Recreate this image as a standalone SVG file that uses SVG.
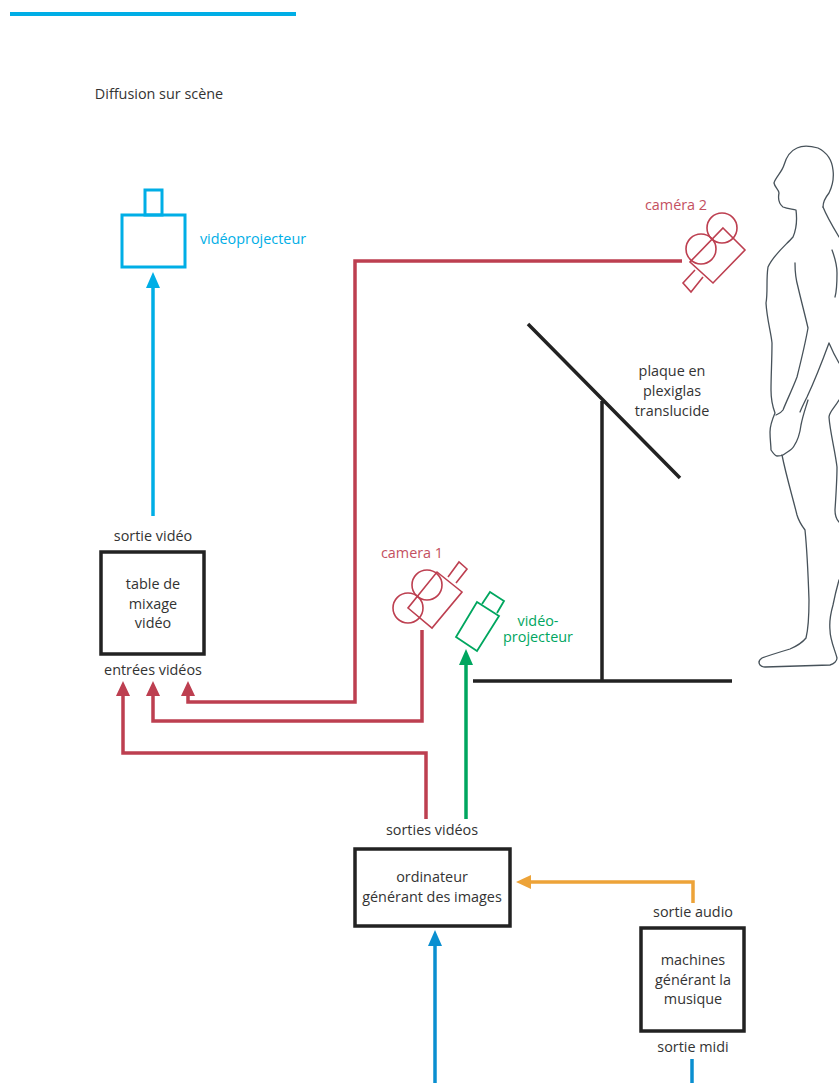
<svg xmlns="http://www.w3.org/2000/svg" width="839" height="1083" viewBox="0 0 839 1083">
<style>
text{font-family:"Open Sans","Noto Sans","Liberation Sans",sans-serif;font-size:14.4px;fill:#333;text-anchor:middle}
.box{fill:#fff;stroke:#222;stroke-width:3.5}
.bar{fill:none;stroke:#222;stroke-width:3.5}
.w{fill:none;stroke-width:3.5}
.i{fill:none}
.red{stroke:#bd3f50}.rt{fill:#c4505f}.rf{fill:#bd3f50}
.cy{stroke:#00aee6}.ct{fill:#00aee6}
.gr{stroke:#00a65f}.gt{fill:#00a65f}
.or{stroke:#eda338}.of{fill:#eda338}.bl{stroke:#0a8fd0}.bf{fill:#0a8fd0}
.body{fill:none;stroke:#47525a;stroke-width:1.3;stroke-linejoin:round;stroke-linecap:round}
</style>
<path d="M10 14H296" fill="none" stroke="#00aee6" stroke-width="4"/>
<text x="159" y="99">Diffusion sur scène</text>

<g id="connectors">
<path class="w cy" d="M153 516V287"/>
<path class="ct" d="M153 272L160 288H146Z"/>
<path class="w red" d="M682 261H355V702H188V695"/>
<path class="rf" d="M188 681L195 696H181Z"/>
<path class="w red" d="M422 630V721H153V695"/>
<path class="rf" d="M153 681L160 696H146Z"/>
<path class="w red" d="M426 819V753H123V695"/>
<path class="rf" d="M123 681L130 696H116Z"/>
<path class="w gr" d="M466 819V664"/>
<path class="gt" d="M466 649L473 665H459Z"/>
<path class="w or" d="M693 903V882H530"/>
<path class="of" d="M516 882L531 875V889Z"/>
<path class="w bl" d="M435 1083V945"/>
<path class="bf" d="M435 930L442 946H428Z"/>
<path class="w bl" d="M692 1059V1083"/>
</g>

<g id="videoprojecteur-1">
<rect class="i cy" x="122" y="215" width="63" height="52" stroke-width="3"/>
<rect class="i cy" x="145" y="190" width="17" height="25" stroke-width="3"/>
<text x="253" y="244" style="fill:#00aee6">vidéoprojecteur</text>
</g>

<g id="camera-2">
<g class="i red" stroke-width="1.6">
<path d="M723 228L745 250L713 283L690 262Z"/>
<path d="M695 270L683 283L691 292L703 277"/>
<circle cx="701" cy="249" r="15"/>
<circle cx="722" cy="228" r="15"/>
</g>
<text x="676" y="210" style="fill:#c4505f">caméra 2</text>
</g>

<g id="plaque">
<path class="bar" d="M528 324L680 478M602 401V681M473 681H732"/>
<text x="672" y="376">plaque en</text>
<text x="672" y="396">plexiglas</text>
<text x="672" y="416">translucide</text>
</g>

<g id="personnage">
<path class="body" d="M823 207C823 203 825 198 829 193C832 187 834 178 833 170C832 160 826 152 818 148C811 146 803 145 797 148C790 151 786 158 784 165C782 172 775 178 774 183C775 188 779 190 779 193C778 198 778 203 783 207C788 209 793 209 796 210C797 218 797 228 793 237C786 245 774 254 768 267C766 280 768 292 766 303C767 320 771 332 772 343C772 360 771 375 771 390C771 400 772 405 775 413C772 420 770 428 770 432C770 440 771 445 771 450C773 453 775 456 777 456C780 456 781 456 783 455C787 452 792 450 794 446C798 440 800 433 801 425C803 415 805 410 808 400"/>
<path class="body" d="M782 455C786 475 792 495 797 515C799 522 802 526 805 530C807 550 808 570 809 600C809 615 808 630 806 638C802 643 797 646 790 649C780 652 770 655 762 658C759 660 758 662 760 665C762 667 763 667 765 667L830 665C834 664 837 661 837 658C835 650 830 640 830 630C829 620 831 612 833 605C835 595 837 587 839 580"/>
<path class="body" d="M795 263C795 275 796 280 798 287C801 300 805 315 808 328C805 345 800 365 797 377C792 390 787 400 783 410C781 413 778 414 776 415"/>
<path class="body" d="M839 400C835 407 829 412 829 417C830 432 835 450 837 467C837 480 836 495 835 510C835 515 837 520 839 522"/>
<path class="body" d="M832 250C835 258 837 265 837 273C837 282 837 290 835 297"/>
<path class="body" d="M829 343C832 350 836 358 839 363M829 343C822 362 815 380 807 397C804 403 802 407 800 412"/>
<path class="body" d="M823 207C827 217 833 227 839 237"/>
</g>

<g id="table-mixage">
<text x="153" y="541">sortie vidéo</text>
<rect class="box" x="101" y="552" width="103" height="102"/>
<text x="153" y="589">table de</text>
<text x="153" y="609">mixage</text>
<text x="153" y="628">vidéo</text>
<text x="153" y="675">entrées vidéos</text>
</g>

<g id="camera-1">
<g class="i red" stroke-width="1.6">
<path d="M437 572L462 592L432 628L408 608Z"/>
<path d="M448 577L459 562L467 569L456 583"/>
<circle cx="427" cy="585" r="15"/>
<circle cx="408" cy="608" r="15"/>
</g>
<text x="412" y="558" style="fill:#c4505f">camera 1</text>
</g>

<g id="videoprojecteur-2">
<g class="i gr" stroke-width="1.8">
<path d="M477 602L499 616L477 651L456 637Z"/>
<path d="M482 604L490 592L504 601L497 613"/>
</g>
<text x="538" y="626" style="fill:#00a65f">vidéo-</text>
<text x="538" y="642" style="fill:#00a65f">projecteur</text>
</g>

<g id="ordinateur">
<text x="432" y="835">sorties vidéos</text>
<rect class="box" x="355" y="849" width="155" height="77"/>
<text x="432" y="882">ordinateur</text>
<text x="432" y="902">générant des images</text>
</g>

<g id="machines">
<text x="693" y="917">sortie audio</text>
<rect class="box" x="641" y="928" width="103" height="103"/>
<text x="693" y="965">machines</text>
<text x="693" y="985">générant la</text>
<text x="693" y="1004">musique</text>
<text x="693" y="1052">sortie midi</text>
</g>
</svg>
